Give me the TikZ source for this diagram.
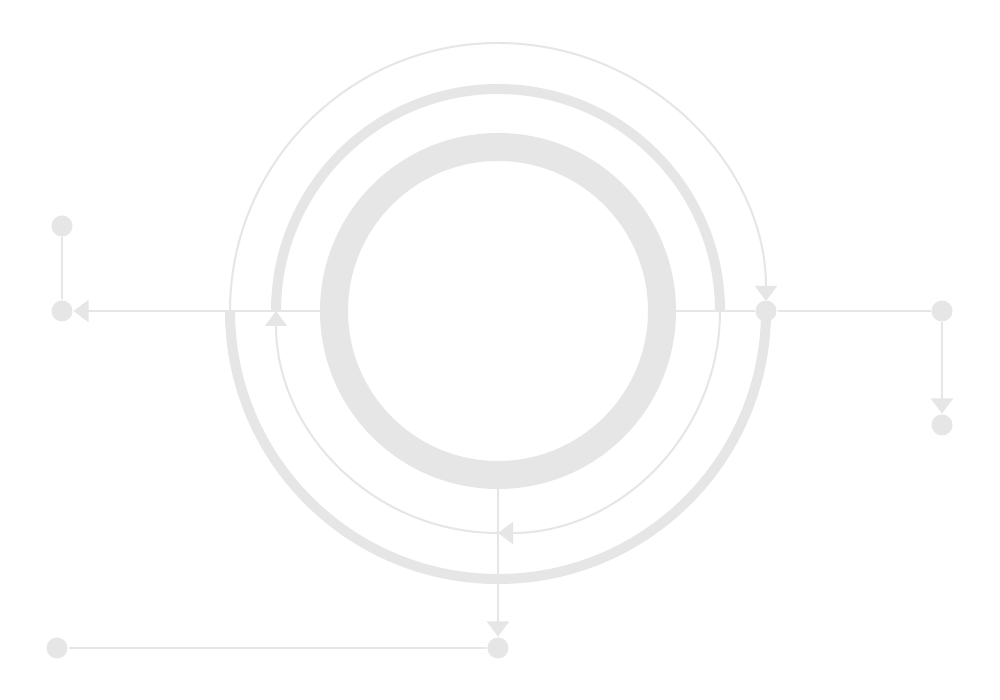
\documentclass[tikz,border=0pt]{standalone}
\usetikzlibrary{arrows.meta}
\definecolor{ringgray}{HTML}{E6E6E6}
\begin{document}
\begin{tikzpicture}[x=1pt,y=1pt,color=ringgray,line width=2pt,
  ball/.style={circle,fill=ringgray,minimum size=21pt,inner sep=0pt},
  arr/.style={-{Triangle[width=22pt,length=15pt]}}]
\fill[white](0,0)rectangle(1000,700);
\useasboundingbox(0,0)rectangle(1000,700);
\pgfmathsetmacro{\cx}{498}
\pgfmathsetmacro{\cy}{389}
\coordinate(c)at(\cx,\cy);
\coordinate(ringW)at(\cx-178,\cy);
\coordinate(ringE)at(\cx+178,\cy);
\coordinate(ringS)at(\cx,\cy-178);
\node[ball](dotTL)at(62,474){};
\node[ball](dotL)at(62,\cy){};
\node[ball](dotR1)at(766,\cy){};
\node[ball](dotR2)at(942,\cy){};
\node[ball](dotR3)at(942,275){};
\node[ball](dotB)at(\cx,52){};
\node[ball](dotBL)at(57,52){};
\draw[line width=28pt](c)circle(164);
\draw[arr,shorten >=10pt](\cx-268,\cy)arc(180:0:268);
\draw[line width=10pt](\cx-268,\cy)arc(180:360:268);
\draw[line width=10pt](\cx-222,\cy)arc(180:0:222);
\draw[arr](\cx+222,\cy)arc(0:-90:222);
\draw[arr](\cx,\cy-222)arc(-90:-180:222);
\draw[arr](ringW)--(dotL);
\draw(ringE)--(dotR1)--(dotR2);
\draw(dotTL)--(dotL);
\draw[arr](dotR2)--(dotR3);
\draw[arr](ringS)--(dotB);
\draw(dotBL)--(dotB);
\end{tikzpicture}
\end{document}
